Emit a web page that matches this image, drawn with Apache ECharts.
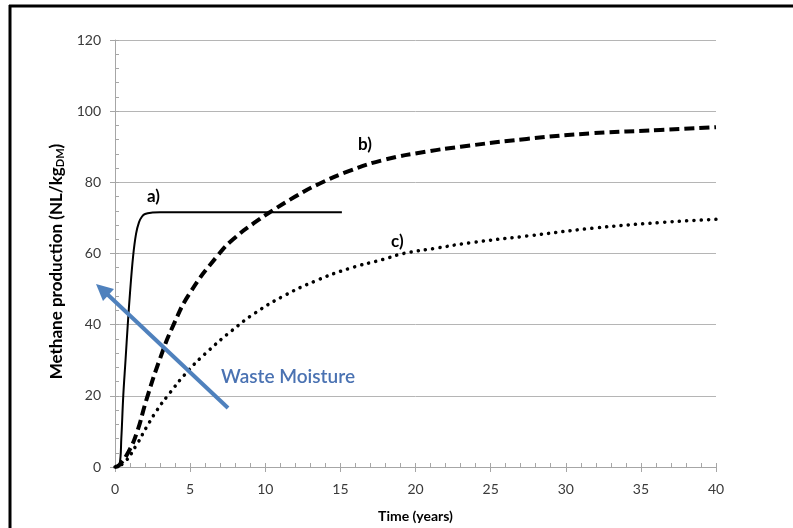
<!DOCTYPE html>
<html>
<head>
<meta charset="utf-8">
<script src="https://cdn.jsdelivr.net/npm/echarts@6/dist/echarts.min.js"></script>
<style>
  html, body { margin: 0; padding: 0; background: #fff; }
  #chart { width: 793px; height: 528px; }
</style>
</head>
<body>
<div id="chart"></div>
<script>
// Cumulative methane production (NL/kg DM) versus time (years)
// for three waste-moisture scenarios.

// a) wettest waste: fast start, early plateau
const timeA  = [0, 0.3, 0.42, 0.55, 0.7, 0.85, 1.0, 1.2, 1.4, 1.6, 1.8, 2.0, 2.5, 3.0, 15.1];
const valueA = [0, 0.6, 8,    20,   30,  40,   49,  59,  65.5, 68.8, 70.4, 71.1, 71.5, 71.6, 71.6];

// b) intermediate moisture
const timeB  = [0, 0.3, 0.9, 1.44, 2.1, 3.0,  3.9, 5.0, 6.85, 8.0,  9.4, 10.2, 12.0, 13.6, 15.6, 17.9, 20.7, 23.0, 27.4, 31.8, 36.3, 40];
const valueB = [0, 0.6, 4.3, 9.5,  19,  30.5, 40,  49,  59.5, 64.5, 69,  71.3, 76,   79.6, 83.2, 86.3, 88.6, 90,   92.2, 93.8, 94.7, 95.5];

// c) driest waste: slow production
const timeC  = [0, 0.6, 1.4, 2.1,  2.8, 3.5, 4.86, 6.2,  7.8,  9.3,  11.2, 13.4, 15.6, 17.9, 19.2, 21.4, 23.6, 27.4, 31.8, 36.3, 40];
const valueC = [0, 1.2, 6,   11.2, 16,  20,  27,   32.6, 38.4, 43.2, 48,   52.4, 55.8, 58.4, 60,   61.5, 63,   64.9, 67.1, 68.7, 69.6];

const xTicks = { min: 0, max: 40, step: 5 };
const yTicks = { min: 0, max: 120, step: 20 };

const pairs = (ts, vs) => ts.map((t, i) => [t, vs[i]]);

const axisGrey = '#a6a6a6';
const gridGrey = '#b5b5b5';
const labelFont = 'Lato, "Open Sans", sans-serif';

const chart = echarts.init(document.getElementById('chart'), null, { renderer: 'canvas' });

chart.setOption({
  animation: false,
  backgroundColor: '#fff',
  grid: { left: 115, right: 77, top: 40, bottom: 61, containLabel: false },
  xAxis: [
    {
      type: 'value', min: xTicks.min, max: xTicks.max, interval: xTicks.step,
      name: 'Time (years)', nameLocation: 'middle', nameGap: 42,
      nameTextStyle: { fontFamily: labelFont, fontWeight: 'bold', fontSize: 14, color: '#000' },
      axisLine: { show: true, lineStyle: { color: axisGrey, width: 1 } },
      axisTick: { show: true, inside: false, length: 5, lineStyle: { color: axisGrey } },
      axisLabel: { margin: 15, fontFamily: labelFont, fontSize: 14, color: '#3a3a3a' },
      splitLine: { show: false }
    },
    {
      // inner tick marks with minor divisions
      type: 'value', min: xTicks.min, max: xTicks.max, interval: xTicks.step,
      position: 'bottom',
      axisLine: { show: false },
      axisTick: { show: true, inside: true, length: 4, lineStyle: { color: axisGrey } },
      minorTick: { show: true, splitNumber: 5, length: 4, lineStyle: { color: axisGrey } },
      axisLabel: { show: false },
      splitLine: { show: false }
    }
  ],
  yAxis: [
    {
      type: 'value', min: yTicks.min, max: yTicks.max, interval: yTicks.step,
      name: '{n|Methane production (NL/kg}{s|DM}{n|)}',
      nameLocation: 'middle', nameGap: 47, nameRotate: 90,
      nameTextStyle: {
        padding: [0, 16, 0, 0],
        rich: {
          n: { fontFamily: labelFont, fontWeight: 'bold', fontSize: 17, color: '#000' },
          s: { fontFamily: labelFont, fontWeight: 'bold', fontSize: 11, color: '#000', verticalAlign: 'bottom', padding: [7, 0, 0, 0] }
        }
      },
      axisLine: { show: true, lineStyle: { color: axisGrey, width: 1 } },
      axisTick: { show: true, inside: false, length: 5, lineStyle: { color: axisGrey } },
      axisLabel: { margin: 14, fontFamily: labelFont, fontSize: 14, color: '#3a3a3a' },
      splitLine: { show: true, lineStyle: { color: gridGrey, width: 1 } }
    },
    {
      type: 'value', min: yTicks.min, max: yTicks.max, interval: yTicks.step,
      position: 'left',
      axisLine: { show: false },
      axisTick: { show: true, inside: true, length: 4, lineStyle: { color: axisGrey } },
      minorTick: { show: true, splitNumber: 5, length: 4, lineStyle: { color: axisGrey } },
      axisLabel: { show: false },
      splitLine: { show: false }
    }
  ],
  series: [
    {
      name: 'a)', type: 'line', xAxisIndex: 0, yAxisIndex: 0,
      data: pairs(timeA, valueA), showSymbol: false, symbol: 'none',
      smooth: 0.4,
      lineStyle: { color: '#000', width: 2, type: 'solid' }, z: 3
    },
    {
      name: 'b)', type: 'line', xAxisIndex: 0, yAxisIndex: 0,
      data: pairs(timeB, valueB), showSymbol: false, symbol: 'none',
      smooth: 0.5,
      lineStyle: { color: '#000', width: 4, type: [10, 5], cap: 'butt' }, z: 3
    },
    {
      name: 'c)', type: 'line', xAxisIndex: 0, yAxisIndex: 0,
      data: pairs(timeC, valueC), showSymbol: false, symbol: 'none',
      smooth: 0.5,
      lineStyle: { color: '#000', width: 3.5, type: [0.1, 7.2], cap: 'round' }, z: 3
    }
  ],
  graphic: [
    // outer frame (left and top edges)
    { type: 'line', shape: { x1: 10, y1: 5, x2: 10, y2: 528 }, style: { stroke: '#000', lineWidth: 3 }, z: 10 },
    { type: 'line', shape: { x1: 9, y1: 6, x2: 793, y2: 6 }, style: { stroke: '#000', lineWidth: 3 }, z: 10 },
    // curve labels
    { type: 'text', left: 147, top: 188, style: { text: 'a)', font: 'bold 17px ' + labelFont, fill: '#000' }, z: 10 },
    { type: 'text', left: 358, top: 136, style: { text: 'b)', font: 'bold 17px ' + labelFont, fill: '#000' }, z: 10 },
    { type: 'text', left: 391, top: 233, style: { text: 'c)', font: 'bold 17px ' + labelFont, fill: '#000' }, z: 10 },
    // moisture arrow
    { type: 'line', shape: { x1: 228, y1: 408, x2: 106, y2: 293 }, style: { stroke: '#4f81bd', lineWidth: 4 }, z: 10 },
    { type: 'polygon', shape: { points: [[96, 284], [114, 289], [103, 301]] }, style: { fill: '#4f81bd' }, z: 10 },
    { type: 'text', left: 221, top: 367, style: { text: 'Waste Moisture', font: '600 19px ' + labelFont, fill: '#4a72b2' }, z: 10 }
  ]
});
</script>
</body>
</html>
